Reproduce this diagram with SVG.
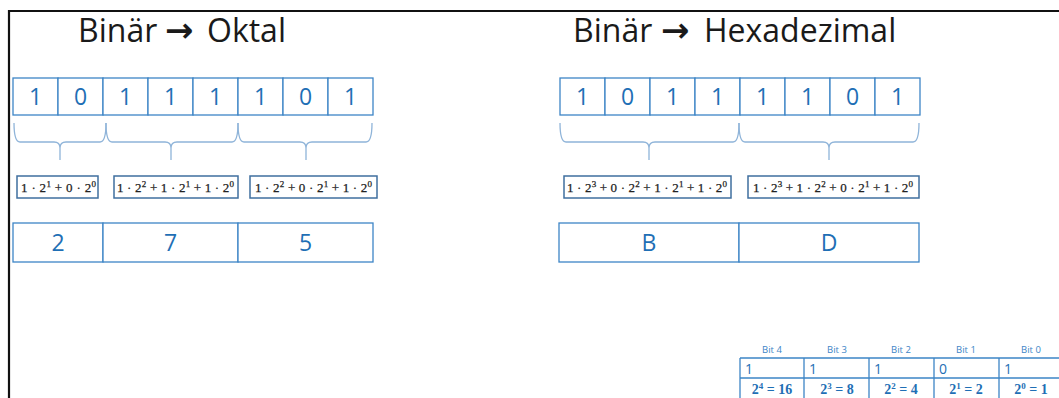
<svg xmlns="http://www.w3.org/2000/svg" width="1059" height="398" viewBox="0 0 1059 398">
  <style>
    .title { font-family: "Open Sans", "Liberation Sans", sans-serif; font-size: 32px; fill: #1a1a1a; }
    .arrow { font-family: "DejaVu Sans", sans-serif; font-weight: bold; font-size: 34px; fill: #1a1a1a; }
    .cell { fill: #fff; stroke: #3d85c6; stroke-width: 1.3; }
    .digit { font-family: "Open Sans", "Liberation Sans", sans-serif; font-size: 23px; fill: #1f6fb5; text-anchor: middle; }
    .brace { fill: none; stroke: #8fb4d9; stroke-width: 1.3; }
    .fbox { fill: #fff; stroke: #3f6f9f; stroke-width: 1.5; }
    .formula { font-family: "Liberation Serif", "DejaVu Serif", serif; font-size: 13px; fill: #222; stroke: #222; stroke-width: 0.25; }
    .sup { font-size: 9px; }
    .bit { font-family: "Open Sans", "Liberation Sans", sans-serif; font-size: 9.5px; fill: #3d85c6; text-anchor: middle; }
    .tval { font-family: "Open Sans", "Liberation Sans", sans-serif; font-size: 14px; fill: #1f6fb5; }
    .tpow { font-family: "Liberation Serif", "DejaVu Serif", serif; font-size: 14px; fill: #1f6fb5; text-anchor: middle; font-weight: bold; }
  </style>

  <!-- frame -->
  <path d="M9 398 V11 H1059" fill="none" stroke="#111" stroke-width="2.2"/>

  <!-- titles -->
  <g id="title-octal">
    <text class="title" x="78" y="42">Binär</text>
    <text class="arrow" x="165" y="42">→</text>
    <text class="title" x="207" y="42">Oktal</text>
  </g>
  <g id="title-hex">
    <text class="title" x="573" y="42">Binär</text>
    <text class="arrow" x="661" y="42">→</text>
    <text class="title" x="704" y="42">Hexadezimal</text>
  </g>

  <!-- octal: bit row -->
  <g id="bits-octal">
    <rect class="cell" x="13" y="78" width="45" height="37"/>
    <rect class="cell" x="58" y="78" width="45" height="37"/>
    <rect class="cell" x="103" y="78" width="45" height="37"/>
    <rect class="cell" x="148" y="78" width="45" height="37"/>
    <rect class="cell" x="193" y="78" width="45" height="37"/>
    <rect class="cell" x="238" y="78" width="45" height="37"/>
    <rect class="cell" x="283" y="78" width="45" height="37"/>
    <rect class="cell" x="328" y="78" width="45" height="37"/>
    <text class="digit" x="35.5" y="105">1</text>
    <text class="digit" x="80.5" y="105">0</text>
    <text class="digit" x="125.5" y="105">1</text>
    <text class="digit" x="170.5" y="105">1</text>
    <text class="digit" x="215.5" y="105">1</text>
    <text class="digit" x="260.5" y="105">1</text>
    <text class="digit" x="305.5" y="105">0</text>
    <text class="digit" x="350.5" y="105">1</text>
  </g>

  <!-- hex: bit row -->
  <g id="bits-hex">
    <rect class="cell" x="560" y="78" width="45" height="37"/>
    <rect class="cell" x="605" y="78" width="45" height="37"/>
    <rect class="cell" x="650" y="78" width="45" height="37"/>
    <rect class="cell" x="695" y="78" width="45" height="37"/>
    <rect class="cell" x="740" y="78" width="45" height="37"/>
    <rect class="cell" x="785" y="78" width="45" height="37"/>
    <rect class="cell" x="830" y="78" width="45" height="37"/>
    <rect class="cell" x="875" y="78" width="45" height="37"/>
    <text class="digit" x="582.5" y="105">1</text>
    <text class="digit" x="627.5" y="105">0</text>
    <text class="digit" x="672.5" y="105">1</text>
    <text class="digit" x="717.5" y="105">1</text>
    <text class="digit" x="762.5" y="105">1</text>
    <text class="digit" x="807.5" y="105">1</text>
    <text class="digit" x="852.5" y="105">0</text>
    <text class="digit" x="897.5" y="105">1</text>
  </g>

  <!-- grouping braces -->
  <g id="connectors">
    <path class="brace" d="M14 123 Q14 142 20 142 H54 Q60 142 60 148 V160 M60 148 Q60 142 66 142 H100 Q106 142 106 123"/>
    <path class="brace" d="M106 123 Q106 142 112 142 H165 Q171 142 171 148 V160 M171 148 Q171 142 177 142 H232 Q238 142 238 123"/>
    <path class="brace" d="M238 123 Q238 142 244 142 H300 Q306 142 306 148 V160 M306 148 Q306 142 312 142 H366 Q372 142 372 123"/>
    <path class="brace" d="M560 123 Q560 142 566 142 H643 Q649 142 649 148 V160 M649 148 Q649 142 655 142 H733 Q739 142 739 123"/>
    <path class="brace" d="M739 123 Q739 142 745 142 H823 Q829 142 829 148 V160 M829 148 Q829 142 835 142 H913 Q919 142 919 123"/>
  </g>

  <!-- octal: place-value sums -->
  <g id="sum-octal-1">
    <rect class="fbox" x="17" y="176" width="81" height="22"/>
    <text class="formula" x="21" y="192" textLength="75" lengthAdjust="spacing">1 · 2<tspan class="sup" dy="-5">1</tspan><tspan dy="5"> + 0 · 2</tspan><tspan class="sup" dy="-5">0</tspan></text>
  </g>
  <g id="sum-octal-2">
    <rect class="fbox" x="114" y="176" width="124" height="22"/>
    <text class="formula" x="117" y="192" textLength="117" lengthAdjust="spacing">1 · 2<tspan class="sup" dy="-5">2</tspan><tspan dy="5"> + 1 · 2</tspan><tspan class="sup" dy="-5">1</tspan><tspan dy="5"> + 1 · 2</tspan><tspan class="sup" dy="-5">0</tspan></text>
  </g>
  <g id="sum-octal-3">
    <rect class="fbox" x="250" y="176" width="127" height="22"/>
    <text class="formula" x="255" y="192" textLength="117" lengthAdjust="spacing">1 · 2<tspan class="sup" dy="-5">2</tspan><tspan dy="5"> + 0 · 2</tspan><tspan class="sup" dy="-5">1</tspan><tspan dy="5"> + 1 · 2</tspan><tspan class="sup" dy="-5">0</tspan></text>
  </g>

  <!-- hex: place-value sums -->
  <g id="sum-hex-1">
    <rect class="fbox" x="564" y="176" width="167" height="22"/>
    <text class="formula" x="567" y="192" textLength="160" lengthAdjust="spacing">1 · 2<tspan class="sup" dy="-5">3</tspan><tspan dy="5"> + 0 ·  2</tspan><tspan class="sup" dy="-5">2</tspan><tspan dy="5"> + 1 · 2</tspan><tspan class="sup" dy="-5">1</tspan><tspan dy="5"> + 1 · 2</tspan><tspan class="sup" dy="-5">0</tspan></text>
  </g>
  <g id="sum-hex-2">
    <rect class="fbox" x="748" y="176" width="171" height="22"/>
    <text class="formula" x="753" y="192" textLength="160" lengthAdjust="spacing">1 · 2<tspan class="sup" dy="-5">3</tspan><tspan dy="5"> + 1 ·  2</tspan><tspan class="sup" dy="-5">2</tspan><tspan dy="5"> + 0 · 2</tspan><tspan class="sup" dy="-5">1</tspan><tspan dy="5"> + 1 · 2</tspan><tspan class="sup" dy="-5">0</tspan></text>
  </g>

  <!-- octal: result digits -->
  <g id="result-octal">
    <rect class="cell" x="13" y="223" width="90" height="39"/>
    <rect class="cell" x="103" y="223" width="135" height="39"/>
    <rect class="cell" x="238" y="223" width="135" height="39"/>
    <text class="digit" x="58" y="251">2</text>
    <text class="digit" x="170.5" y="251">7</text>
    <text class="digit" x="305.5" y="251">5</text>
  </g>

  <!-- hex: result digits -->
  <g id="result-hex">
    <rect class="cell" x="559" y="223" width="180" height="39"/>
    <rect class="cell" x="739" y="223" width="180" height="39"/>
    <text class="digit" x="649" y="251">B</text>
    <text class="digit" x="829" y="251">D</text>
  </g>

  <!-- place-value table -->
  <g id="bit-table">
    <text class="bit" x="772" y="353">Bit 4</text>
    <text class="bit" x="837" y="353">Bit 3</text>
    <text class="bit" x="901" y="353">Bit 2</text>
    <text class="bit" x="966" y="353">Bit 1</text>
    <text class="bit" x="1031" y="353">Bit 0</text>
    <path d="M740 358 H1059 M740 378 H1059 M740 358 V398 M804 358 V398 M869 358 V398 M934 358 V398 M999 358 V398" fill="none" stroke="#3d85c6" stroke-width="1.3"/>
    <text class="tval" x="745" y="374">1</text>
    <text class="tval" x="809" y="374">1</text>
    <text class="tval" x="874" y="374">1</text>
    <text class="tval" x="939" y="374">0</text>
    <text class="tval" x="1004" y="374">1</text>
    <text class="tpow" x="772" y="394">2<tspan class="sup" dy="-5">4</tspan><tspan dy="5"> = 16</tspan></text>
    <text class="tpow" x="837" y="394">2<tspan class="sup" dy="-5">3</tspan><tspan dy="5"> = 8</tspan></text>
    <text class="tpow" x="901" y="394">2<tspan class="sup" dy="-5">2</tspan><tspan dy="5"> = 4</tspan></text>
    <text class="tpow" x="966" y="394">2<tspan class="sup" dy="-5">1</tspan><tspan dy="5"> = 2</tspan></text>
    <text class="tpow" x="1031" y="394">2<tspan class="sup" dy="-5">0</tspan><tspan dy="5"> = 1</tspan></text>
  </g>
</svg>
